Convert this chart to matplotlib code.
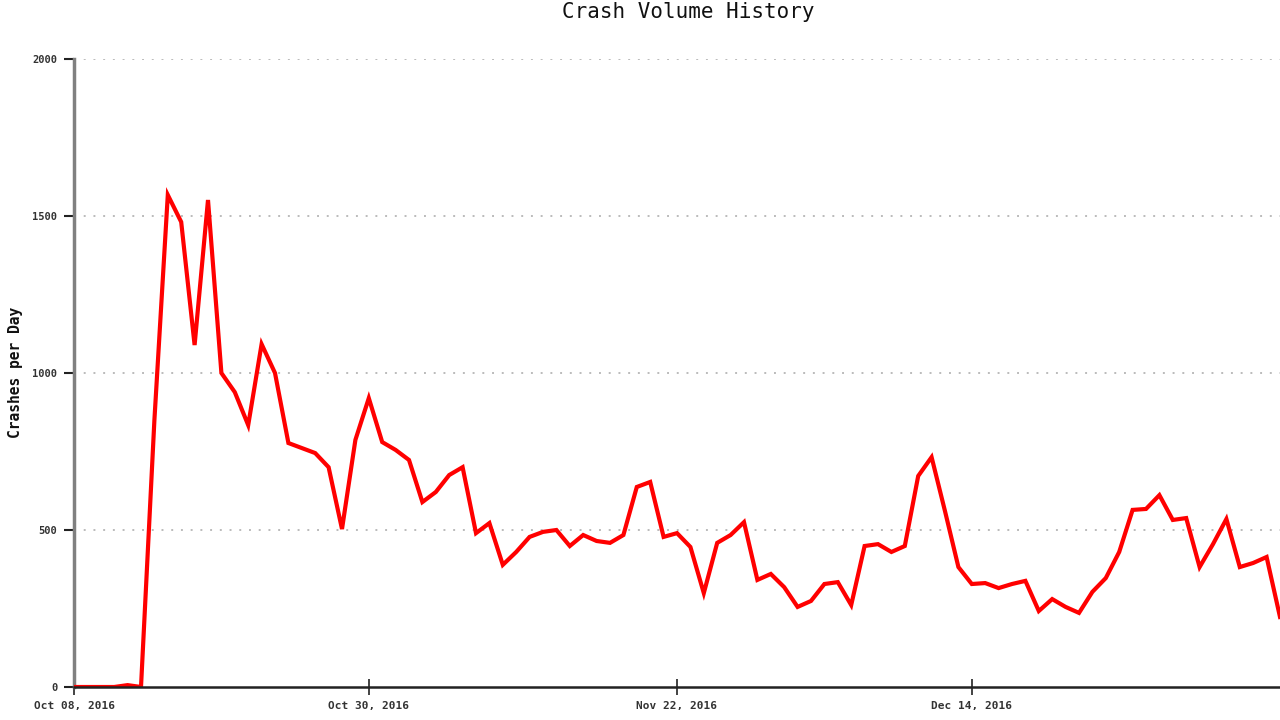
"""
Crash Volume History: crashes per day, Oct 2016 - Jan 2017.
"""

import matplotlib
matplotlib.use("Agg")
import matplotlib.pyplot as plt
import numpy as np

start = np.datetime64("2016-10-08")
crashes = [
    0, 0, 0, 0, 6, 0, 850, 1567, 1481, 1089,
    1551, 1000, 939, 834, 1092, 1000, 777, 761, 745, 700,
    503, 787, 920, 780, 755, 723, 589, 621, 675, 700,
    490, 522, 389, 430, 478, 494, 500, 449, 484, 465,
    459, 484, 637, 653, 478, 490, 446, 299, 459, 484,
    525, 341, 360, 318, 255, 274, 328, 334, 261, 449,
    455, 430, 449, 672, 732, 560, 382, 328, 331, 315,
    328, 338, 242, 280, 255, 236, 303, 347, 430, 564,
    567, 611, 532, 538, 382, 455, 535, 382, 395, 414,
    223,
]
days = start + np.arange(len(crashes)).astype("timedelta64[D]")
days = days.astype("datetime64[D]").astype(object)

tick_dates = [np.datetime64(d).astype(object) for d in
              ["2016-10-08", "2016-10-30", "2016-11-22", "2016-12-14"]]
tick_labels = ["Oct 08, 2016", "Oct 30, 2016", "Nov 22, 2016", "Dec 14, 2016"]
y_ticks = [0, 500, 1000, 1500, 2000]

mono = "DejaVu Sans Mono"

fig = plt.figure(figsize=(12.8, 7.2), dpi=100)
ax = fig.add_axes([74 / 1280, 33 / 720, 1 - 74 / 1280, 628 / 720])

for v in y_ticks[1:]:
    ax.axhline(v, color="#bbbbbb", lw=1.4, ls=(0, (1, 4)), zorder=1)

ax.plot(days, crashes, color="#ff0000", lw=3, solid_joinstyle="miter", zorder=3)

ax.set_xlim(days[0], days[-1])
ax.set_ylim(0, 2000)
ax.set_yticks(y_ticks)
ax.set_yticklabels([str(v) for v in y_ticks], family=mono, fontsize=7.5,
                   fontweight="bold", color="#333333")
ax.set_xticks(tick_dates)
ax.set_xticklabels(tick_labels, family=mono, fontsize=8,
                   fontweight="bold", color="#333333")

ax.tick_params(axis="y", direction="out", length=7, width=1.5, color="#222222", pad=5)
ax.tick_params(axis="x", direction="inout", length=12, width=1.2, color="#222222", pad=4)

for s in ["top", "right"]:
    ax.spines[s].set_visible(False)
ax.spines["left"].set_color("#808080")
ax.spines["left"].set_linewidth(2.5)
ax.spines["bottom"].set_color("#222222")
ax.spines["bottom"].set_linewidth(1.8)
ax.spines["bottom"].set_zorder(4)

fig.text(688 / 1280, 1 - 12 / 720, "Crash Volume History", family=mono,
         fontsize=15, ha="center", va="center", color="#111111")
fig.text(16 / 1280, 1 - 372 / 720, "Crashes per Day", family=mono,
         fontsize=10.5, fontweight="bold", rotation=90, ha="center",
         va="center", color="#111111")

fig.savefig("out.png", dpi=100)
plt.close(fig)
